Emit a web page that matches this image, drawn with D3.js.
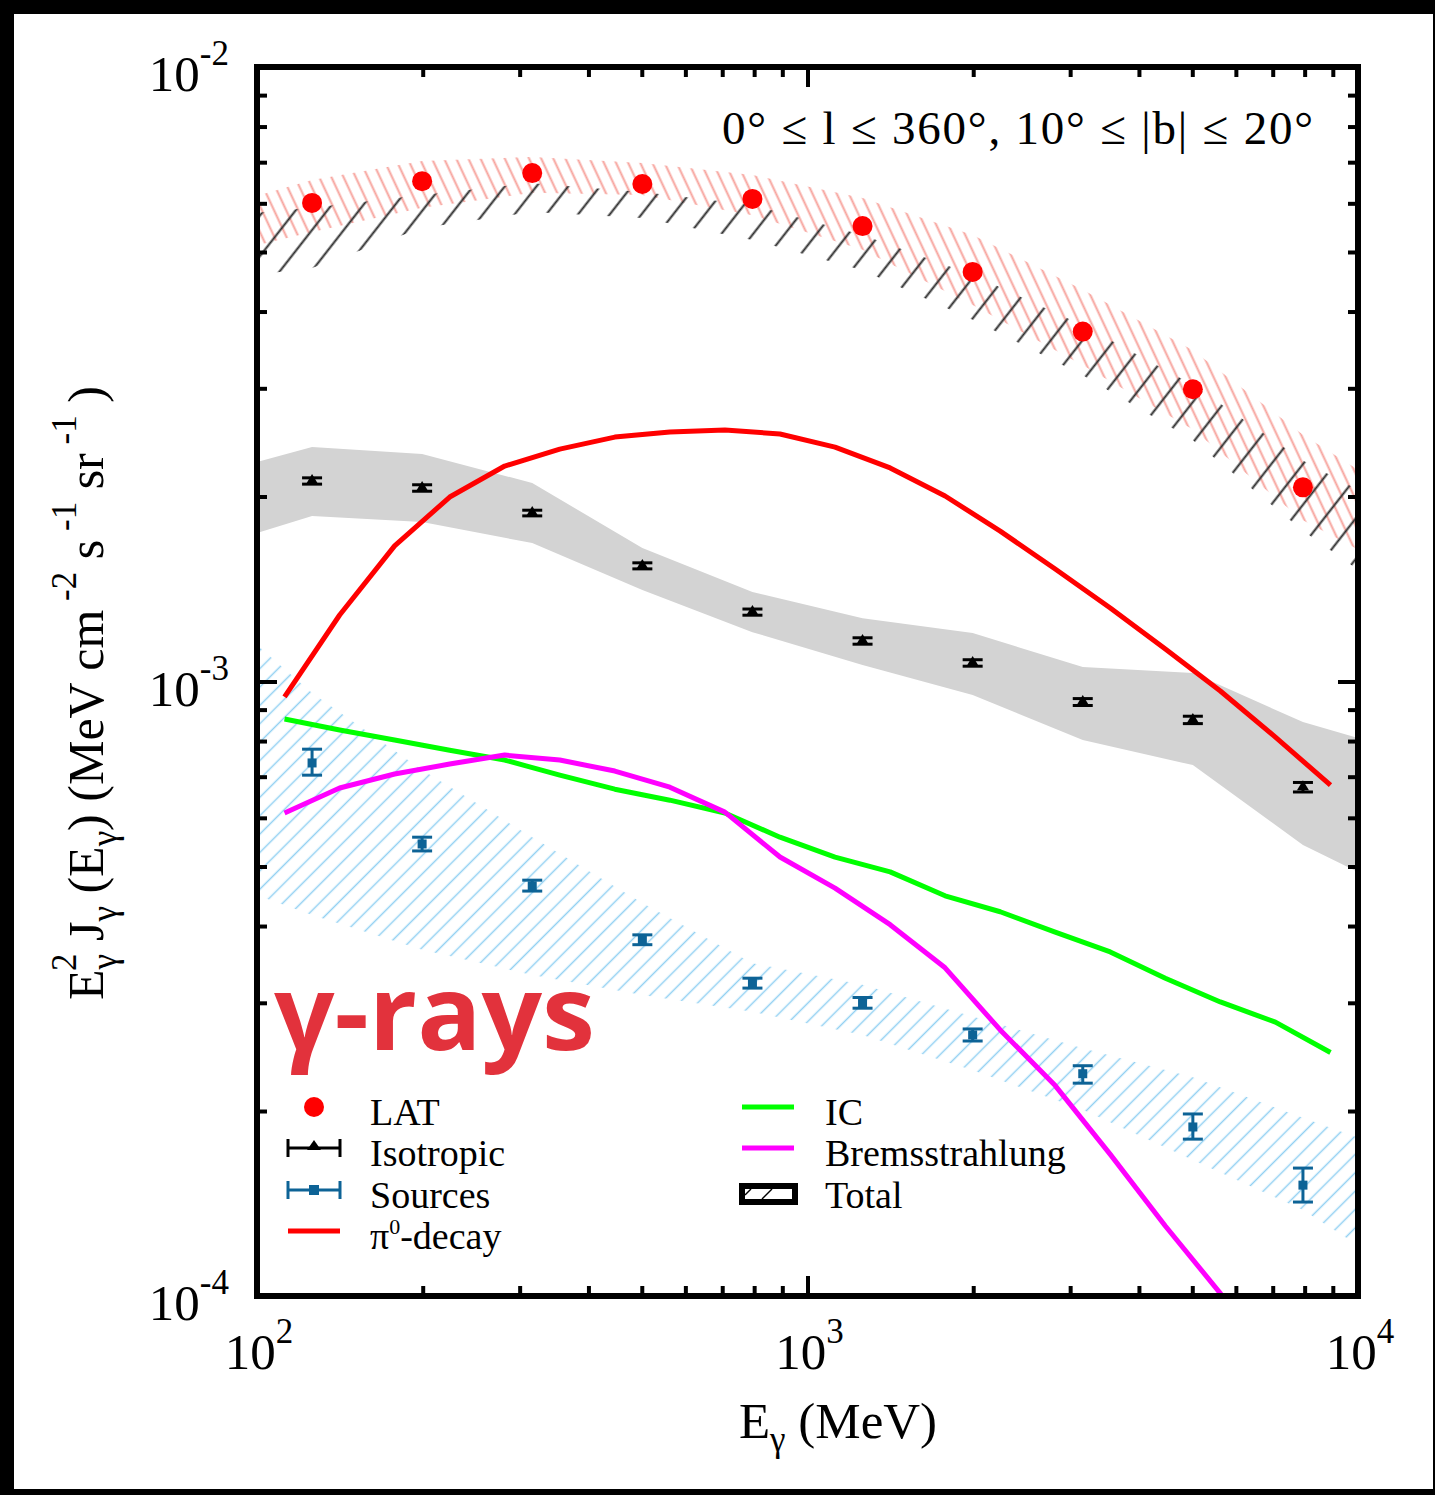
<!DOCTYPE html>
<html><head><meta charset="utf-8">
<script src="https://cdn.jsdelivr.net/npm/d3@7"></script>
<style>html,body{margin:0;padding:0;background:#000;}svg{display:block;}</style>
</head><body>
<svg id="c" width="1435" height="1495"></svg>
<script>
// ---------------- DATA ----------------
const binE = [125.9, 199.5, 316.2, 501.2, 794.3, 1258.9, 1995.3, 3162.3, 5011.9, 7943.3];
const latFlux = [6.01e-3, 6.52e-3, 6.72e-3, 6.45e-3, 6.10e-3, 5.51e-3, 4.64e-3, 3.71e-3, 2.99e-3, 2.07e-3];
const isoFlux = [2.12e-3, 2.065e-3, 1.88e-3, 1.542e-3, 1.297e-3, 1.164e-3, 1.072e-3, 9.26e-4, 8.66e-4, 6.73e-4];
const isoErrHi = [2.145e-3, 2.09e-3, 1.90e-3, 1.56e-3, 1.312e-3, 1.178e-3, 1.085e-3, 9.38e-4, 8.78e-4, 6.85e-4];
const isoErrLo = [2.095e-3, 2.04e-3, 1.86e-3, 1.525e-3, 1.282e-3, 1.150e-3, 1.059e-3, 9.14e-4, 8.54e-4, 6.61e-4];
const srcFlux = [7.37e-4, 5.44e-4, 4.65e-4, 3.80e-4, 3.23e-4, 3.00e-4, 2.66e-4, 2.30e-4, 1.884e-4, 1.515e-4];
const srcErrHi = [7.76e-4, 5.58e-4, 4.75e-4, 3.87e-4, 3.29e-4, 3.06e-4, 2.72e-4, 2.37e-4, 1.978e-4, 1.615e-4];
const srcErrLo = [7.04e-4, 5.30e-4, 4.56e-4, 3.73e-4, 3.17e-4, 2.94e-4, 2.60e-4, 2.22e-4, 1.80e-4, 1.422e-4];

const bandE = [100, 125.9, 199.5, 316.2, 501.2, 794.3, 1258.9, 1995.3, 3162.3, 5011.9, 7943.3, 10000];
const isoBandHi = [2.277e-3, 2.407e-3, 2.345e-3, 2.104e-3, 1.649e-3, 1.398e-3, 1.268e-3, 1.199e-3, 1.056e-3, 1.032e-3, 8.59e-4, 8.09e-4];
const isoBandLo = [1.744e-3, 1.859e-3, 1.818e-3, 1.680e-3, 1.409e-3, 1.203e-3, 1.064e-3, 9.51e-4, 8.03e-4, 7.31e-4, 5.42e-4, 4.90e-4];
const srcBandHi = [1.147e-3, 9.58e-4, 7.18e-4, 5.58e-4, 4.36e-4, 3.48e-4, 3.21e-4, 2.85e-4, 2.53e-4, 2.27e-4, 1.95e-4, 1.81e-4];
const srcBandLo = [4.49e-4, 4.17e-4, 3.66e-4, 3.33e-4, 3.09e-4, 2.90e-4, 2.66e-4, 2.33e-4, 2.01e-4, 1.665e-4, 1.38e-4, 1.21e-4];
const latBandHi = [6.17e-3, 6.55e-3, 7.03e-3, 7.14e-3, 6.98e-3, 6.67e-3, 6.12e-3, 5.33e-3, 4.34e-3, 3.46e-3, 2.52e-3, 2.21e-3];
const latBandLo = [5.13e-3, 5.39e-3, 5.90e-3, 6.24e-3, 6.19e-3, 5.74e-3, 5.04e-3, 4.10e-3, 3.27e-3, 2.57e-3, 1.83e-3, 1.64e-3];
const totBandHi = [5.79e-3, 5.90e-3, 6.19e-3, 6.47e-3, 6.26e-3, 5.96e-3, 5.33e-3, 4.59e-3, 3.80e-3, 3.04e-3, 2.29e-3, 2.05e-3];
const totBandLo = [4.59e-3, 4.71e-3, 5.47e-3, 5.81e-3, 5.68e-3, 5.23e-3, 4.67e-3, 3.88e-3, 3.15e-3, 2.47e-3, 1.76e-3, 1.52e-3];

const lineE = [112.2, 141.3, 177.8, 223.9, 281.8, 354.8, 446.7, 562.3, 707.9, 891.3, 1122, 1413, 1778, 2239, 2818, 3548, 4467, 5623, 7079, 8913];
const pi0 = [9.44e-4, 1.283e-3, 1.662e-3, 1.996e-3, 2.242e-3, 2.389e-3, 2.499e-3, 2.547e-3, 2.566e-3, 2.528e-3, 2.407e-3, 2.226e-3, 2.004e-3, 1.757e-3, 1.524e-3, 1.317e-3, 1.129e-3, 9.65e-4, 8.12e-4, 6.78e-4];
const ic = [8.69e-4, 8.34e-4, 8.03e-4, 7.73e-4, 7.45e-4, 7.04e-4, 6.68e-4, 6.41e-4, 6.11e-4, 5.58e-4, 5.18e-4, 4.90e-4, 4.48e-4, 4.22e-4, 3.91e-4, 3.63e-4, 3.29e-4, 3.01e-4, 2.79e-4, 2.49e-4];
const brems = [6.11e-4, 6.71e-4, 7.07e-4, 7.34e-4, 7.59e-4, 7.45e-4, 7.15e-4, 6.73e-4, 6.13e-4, 5.18e-4, 4.61e-4, 4.02e-4, 3.42e-4, 2.71e-4, 2.20e-4, 1.70e-4, 1.30e-4, 1.01e-4, 7.43e-5];

const xTickLabels = ["2", "3", "4"];
const yTickLabels = ["-2", "-3", "-4"];
const legendLeft = ["LAT", "Isotropic", "Sources", "-decay"];
const legendRight = ["IC", "Bremsstrahlung", "Total"];
const regionLabel = "0° ≤ l ≤ 360°, 10° ≤ |b| ≤ 20°";
const stamp = "γ-rays";

// ---------------- CHART ----------------
const svg = d3.select("#c");
const serif = "'Liberation Serif','Times New Roman',serif";
svg.append("rect").attr("x", 14).attr("y", 14).attr("width", 1419).attr("height", 1475).attr("fill", "#fff");

const L = 257, R = 1358, T = 67, B = 1296;
const x = d3.scaleLog().domain([100, 1e4]).range([L, R]);
const y = d3.scaleLog().domain([1e-4, 1e-2]).range([B, T]);

const defs = svg.append("defs");
defs.append("clipPath").attr("id", "plotclip").append("rect")
  .attr("x", L).attr("y", T).attr("width", R - L).attr("height", B - T);
function hatch(id, spacing, angle, color, width) {
  const p = defs.append("pattern").attr("id", id).attr("patternUnits", "userSpaceOnUse")
    .attr("width", spacing).attr("height", spacing).attr("patternTransform", `rotate(${angle})`);
  p.append("line").attr("x1", spacing / 2).attr("y1", -1).attr("x2", spacing / 2).attr("y2", spacing + 1)
    .attr("stroke", color).attr("stroke-width", width);
}
hatch("hRed", 11, -25, "#f7a39c", 2.0);
hatch("hBlue", 13, 45, "#92d0f2", 1.5);
hatch("hBlack", 25, 38, "#2a2a2a", 2.0);

const plot = svg.append("g").attr("clip-path", "url(#plotclip)");
const bandData = (hi, lo) => bandE.map((e, i) => ({ e, hi: hi[i], lo: lo[i] }));
const area = d3.area().x(d => x(d.e)).y0(d => y(d.lo)).y1(d => y(d.hi));

plot.append("path").datum(bandData(isoBandHi, isoBandLo)).attr("d", area).attr("fill", "#d3d3d3");
plot.append("path").datum(bandData(srcBandHi, srcBandLo)).attr("d", area).attr("fill", "url(#hBlue)");
plot.append("path").datum(bandData(latBandHi, latBandLo)).attr("d", area).attr("fill", "url(#hRed)");
plot.append("path").datum(bandData(totBandHi, totBandLo)).attr("d", area).attr("fill", "url(#hBlack)");

const line = d3.line().x(d => x(d.e)).y(d => y(d.v));
function drawLine(vals, color) {
  plot.append("path").datum(vals.map((v, i) => ({ e: lineE[i], v })))
    .attr("d", line).attr("fill", "none").attr("stroke", color).attr("stroke-width", 5)
    .attr("stroke-linejoin", "round");
}
drawLine(ic, "#00ff00");
drawLine(brems, "#ff00ff");
drawLine(pi0, "#ff0000");

// isotropic points
const blue = "#0d6396";
binE.forEach((e, i) => {
  const cx = x(e);
  const g = plot.append("g");
  g.append("line").attr("x1", cx).attr("x2", cx).attr("y1", y(isoErrHi[i])).attr("y2", y(isoErrLo[i])).attr("stroke", "#000").attr("stroke-width", 3);
  [isoErrHi[i], isoErrLo[i]].forEach(v => g.append("line").attr("x1", cx - 10).attr("x2", cx + 10).attr("y1", y(v)).attr("y2", y(v)).attr("stroke", "#000").attr("stroke-width", 3));
  const cy = y(isoFlux[i]);
  g.append("path").attr("d", `M${cx - 6},${cy + 3}L${cx + 6},${cy + 3}L${cx},${cy - 7}Z`).attr("fill", "#000");
});
// source points
binE.forEach((e, i) => {
  const cx = x(e);
  const g = plot.append("g");
  g.append("line").attr("x1", cx).attr("x2", cx).attr("y1", y(srcErrHi[i])).attr("y2", y(srcErrLo[i])).attr("stroke", blue).attr("stroke-width", 3);
  [srcErrHi[i], srcErrLo[i]].forEach(v => g.append("line").attr("x1", cx - 10).attr("x2", cx + 10).attr("y1", y(v)).attr("y2", y(v)).attr("stroke", blue).attr("stroke-width", 3));
  const cy = y(srcFlux[i]);
  g.append("rect").attr("x", cx - 4.5).attr("y", cy - 4.5).attr("width", 9).attr("height", 9).attr("fill", blue);
});
// LAT points
plot.selectAll("circle.lat").data(binE).join("circle").attr("class", "lat")
  .attr("cx", d => x(d)).attr("cy", (d, i) => y(latFlux[i])).attr("r", 10).attr("fill", "#ff0000");

// ---------------- AXES ----------------
const allX = x.ticks(), allY = y.ticks();
const isMajor = v => Math.abs(Math.log10(v) - Math.round(Math.log10(v))) < 1e-6;
const majX = allX.filter(isMajor), minX = allX.filter(v => !isMajor(v));
const majY = allY.filter(isMajor), minY = allY.filter(v => !isMajor(v));
function axis(gen, vals, size, transform) {
  const g = svg.append("g").attr("transform", transform)
    .call(gen.tickValues(vals).tickSizeInner(-size).tickSizeOuter(0).tickFormat(""));
  g.select(".domain").remove();
  g.selectAll(".tick line").attr("stroke", "#000").attr("stroke-width", 4);
}
axis(d3.axisBottom(x), majX, 20, `translate(0,${B})`);
axis(d3.axisBottom(x), minX, 10, `translate(0,${B})`);
axis(d3.axisTop(x), majX, 20, `translate(0,${T})`);
axis(d3.axisTop(x), minX, 10, `translate(0,${T})`);
axis(d3.axisLeft(y), majY, 20, `translate(${L},0)`);
axis(d3.axisLeft(y), minY, 10, `translate(${L},0)`);
axis(d3.axisRight(y), majY, 20, `translate(${R},0)`);
axis(d3.axisRight(y), minY, 10, `translate(${R},0)`);
svg.append("rect").attr("x", L).attr("y", T).attr("width", R - L).attr("height", B - T)
  .attr("fill", "none").attr("stroke", "#000").attr("stroke-width", 6);

// tick labels
majX.forEach((v, i) => {
  const t = svg.append("text").attr("x", x(v) + 2).attr("y", 1369).attr("text-anchor", "middle")
    .attr("font-family", serif).attr("font-size", 51).attr("fill", "#000");
  t.append("tspan").text("10");
  t.append("tspan").attr("dy", -26).attr("font-size", 35).text(xTickLabels[i]);
});
majY.slice().reverse().forEach((v, i) => {
  const t = svg.append("text").attr("x", 229).attr("y", y(v) + 24).attr("text-anchor", "end")
    .attr("font-family", serif).attr("font-size", 51).attr("fill", "#000");
  t.append("tspan").text("10");
  t.append("tspan").attr("dy", -26).attr("font-size", 35).text(yTickLabels[i]);
});

// axis titles
const xt = svg.append("text").attr("x", 838).attr("y", 1438).attr("text-anchor", "middle")
  .attr("font-family", serif).attr("font-size", 51).attr("fill", "#000");
xt.append("tspan").text("E");
xt.append("tspan").attr("dy", 13).attr("font-size", 35).text("γ");
xt.append("tspan").attr("dy", -13).text(" (MeV)");

const yt = svg.append("text").attr("transform", "translate(103,1000) rotate(-90)")
  .attr("font-family", serif).attr("font-size", 50).attr("fill", "#000");
yt.append("tspan").text("E");
yt.append("tspan").attr("dy", 13).attr("font-size", 35).text("γ");
yt.append("tspan").attr("dx", -17).attr("dy", -40).attr("font-size", 35).text("2");
yt.append("tspan").attr("dy", 27).text(" J");
yt.append("tspan").attr("dy", 13).attr("font-size", 35).text("γ");
yt.append("tspan").attr("dy", -13).text(" (E");
yt.append("tspan").attr("dy", 13).attr("font-size", 35).text("γ");
yt.append("tspan").attr("dy", -13).text(") (MeV cm");
yt.append("tspan").attr("dy", -27).attr("font-size", 35).text(" -2");
yt.append("tspan").attr("dy", 27).text(" s");
yt.append("tspan").attr("dy", -27).attr("font-size", 35).text(" -1");
yt.append("tspan").attr("dy", 27).text(" sr");
yt.append("tspan").attr("dy", -27).attr("font-size", 35).text(" -1");
yt.append("tspan").attr("dy", 27).text(" )");

// region label
svg.append("text").attr("x", 722).attr("y", 144)
  .attr("font-family", serif).attr("font-size", 47).attr("fill", "#000")
  .attr("textLength", 591).attr("lengthAdjust", "spacing").text(regionLabel);

// stamp
svg.append("text").attr("x", 274).attr("y", 1050)
  .attr("font-family", "'Open Sans',sans-serif").attr("font-weight", 700).attr("font-size", 104)
  .attr("fill", "#e2323c").attr("textLength", 321).attr("lengthAdjust", "spacingAndGlyphs").text(stamp);

// ---------------- LEGEND ----------------
const legY = [1107, 1148, 1190, 1231];
const legFont = 38;
function legText(xx, yy, txt) {
  return svg.append("text").attr("x", xx).attr("y", yy + 18).attr("font-family", serif)
    .attr("font-size", legFont).attr("fill", "#000").text(txt);
}
// LAT
svg.append("circle").attr("cx", 314).attr("cy", legY[0]).attr("r", 10).attr("fill", "#ff0000");
legText(370, legY[0], legendLeft[0]);
// Isotropic & Sources
[[legY[1], "#000", "tri"], [legY[2], blue, "sq"]].forEach(([ly, col, m]) => {
  svg.append("line").attr("x1", 288).attr("x2", 340).attr("y1", ly).attr("y2", ly).attr("stroke", col).attr("stroke-width", 3);
  [288, 340].forEach(xx => svg.append("line").attr("x1", xx).attr("x2", xx).attr("y1", ly - 9).attr("y2", ly + 9).attr("stroke", col).attr("stroke-width", 3));
  if (m === "tri") svg.append("path").attr("d", `M${307},${ly + 2}L${321},${ly + 2}L${314},${ly - 8}Z`).attr("fill", col);
  else svg.append("rect").attr("x", 309).attr("y", ly - 5).attr("width", 10).attr("height", 10).attr("fill", col);
});
legText(370, legY[1], legendLeft[1]);
legText(370, legY[2], legendLeft[2]);
// pi0
svg.append("line").attr("x1", 288).attr("x2", 340).attr("y1", legY[3]).attr("y2", legY[3]).attr("stroke", "#ff0000").attr("stroke-width", 5);
const pt = legText(370, legY[3], "");
pt.append("tspan").text("π");
pt.append("tspan").attr("dy", -15).attr("font-size", 22).text("0");
pt.append("tspan").attr("dy", 15).text(legendLeft[3]);
// right column
svg.append("line").attr("x1", 742).attr("x2", 794).attr("y1", legY[0]).attr("y2", legY[0]).attr("stroke", "#00ff00").attr("stroke-width", 5);
legText(825, legY[0], legendRight[0]);
svg.append("line").attr("x1", 742).attr("x2", 794).attr("y1", legY[1]).attr("y2", legY[1]).attr("stroke", "#ff00ff").attr("stroke-width", 5);
legText(825, legY[1], legendRight[1]);
svg.append("rect").attr("x", 739).attr("y", 1183).attr("width", 59).attr("height", 22).attr("fill", "#000");
svg.append("rect").attr("x", 745).attr("y", 1189).attr("width", 47).attr("height", 10).attr("fill", "#fff");
svg.append("line").attr("x1", 762).attr("x2", 772).attr("y1", 1199).attr("y2", 1189).attr("stroke", "#000").attr("stroke-width", 1.5);
svg.append("line").attr("x1", 745).attr("x2", 751).attr("y1", 1195).attr("y2", 1189).attr("stroke", "#000").attr("stroke-width", 1.5);
legText(825, legY[2], legendRight[2]);
</script>
</body></html>
